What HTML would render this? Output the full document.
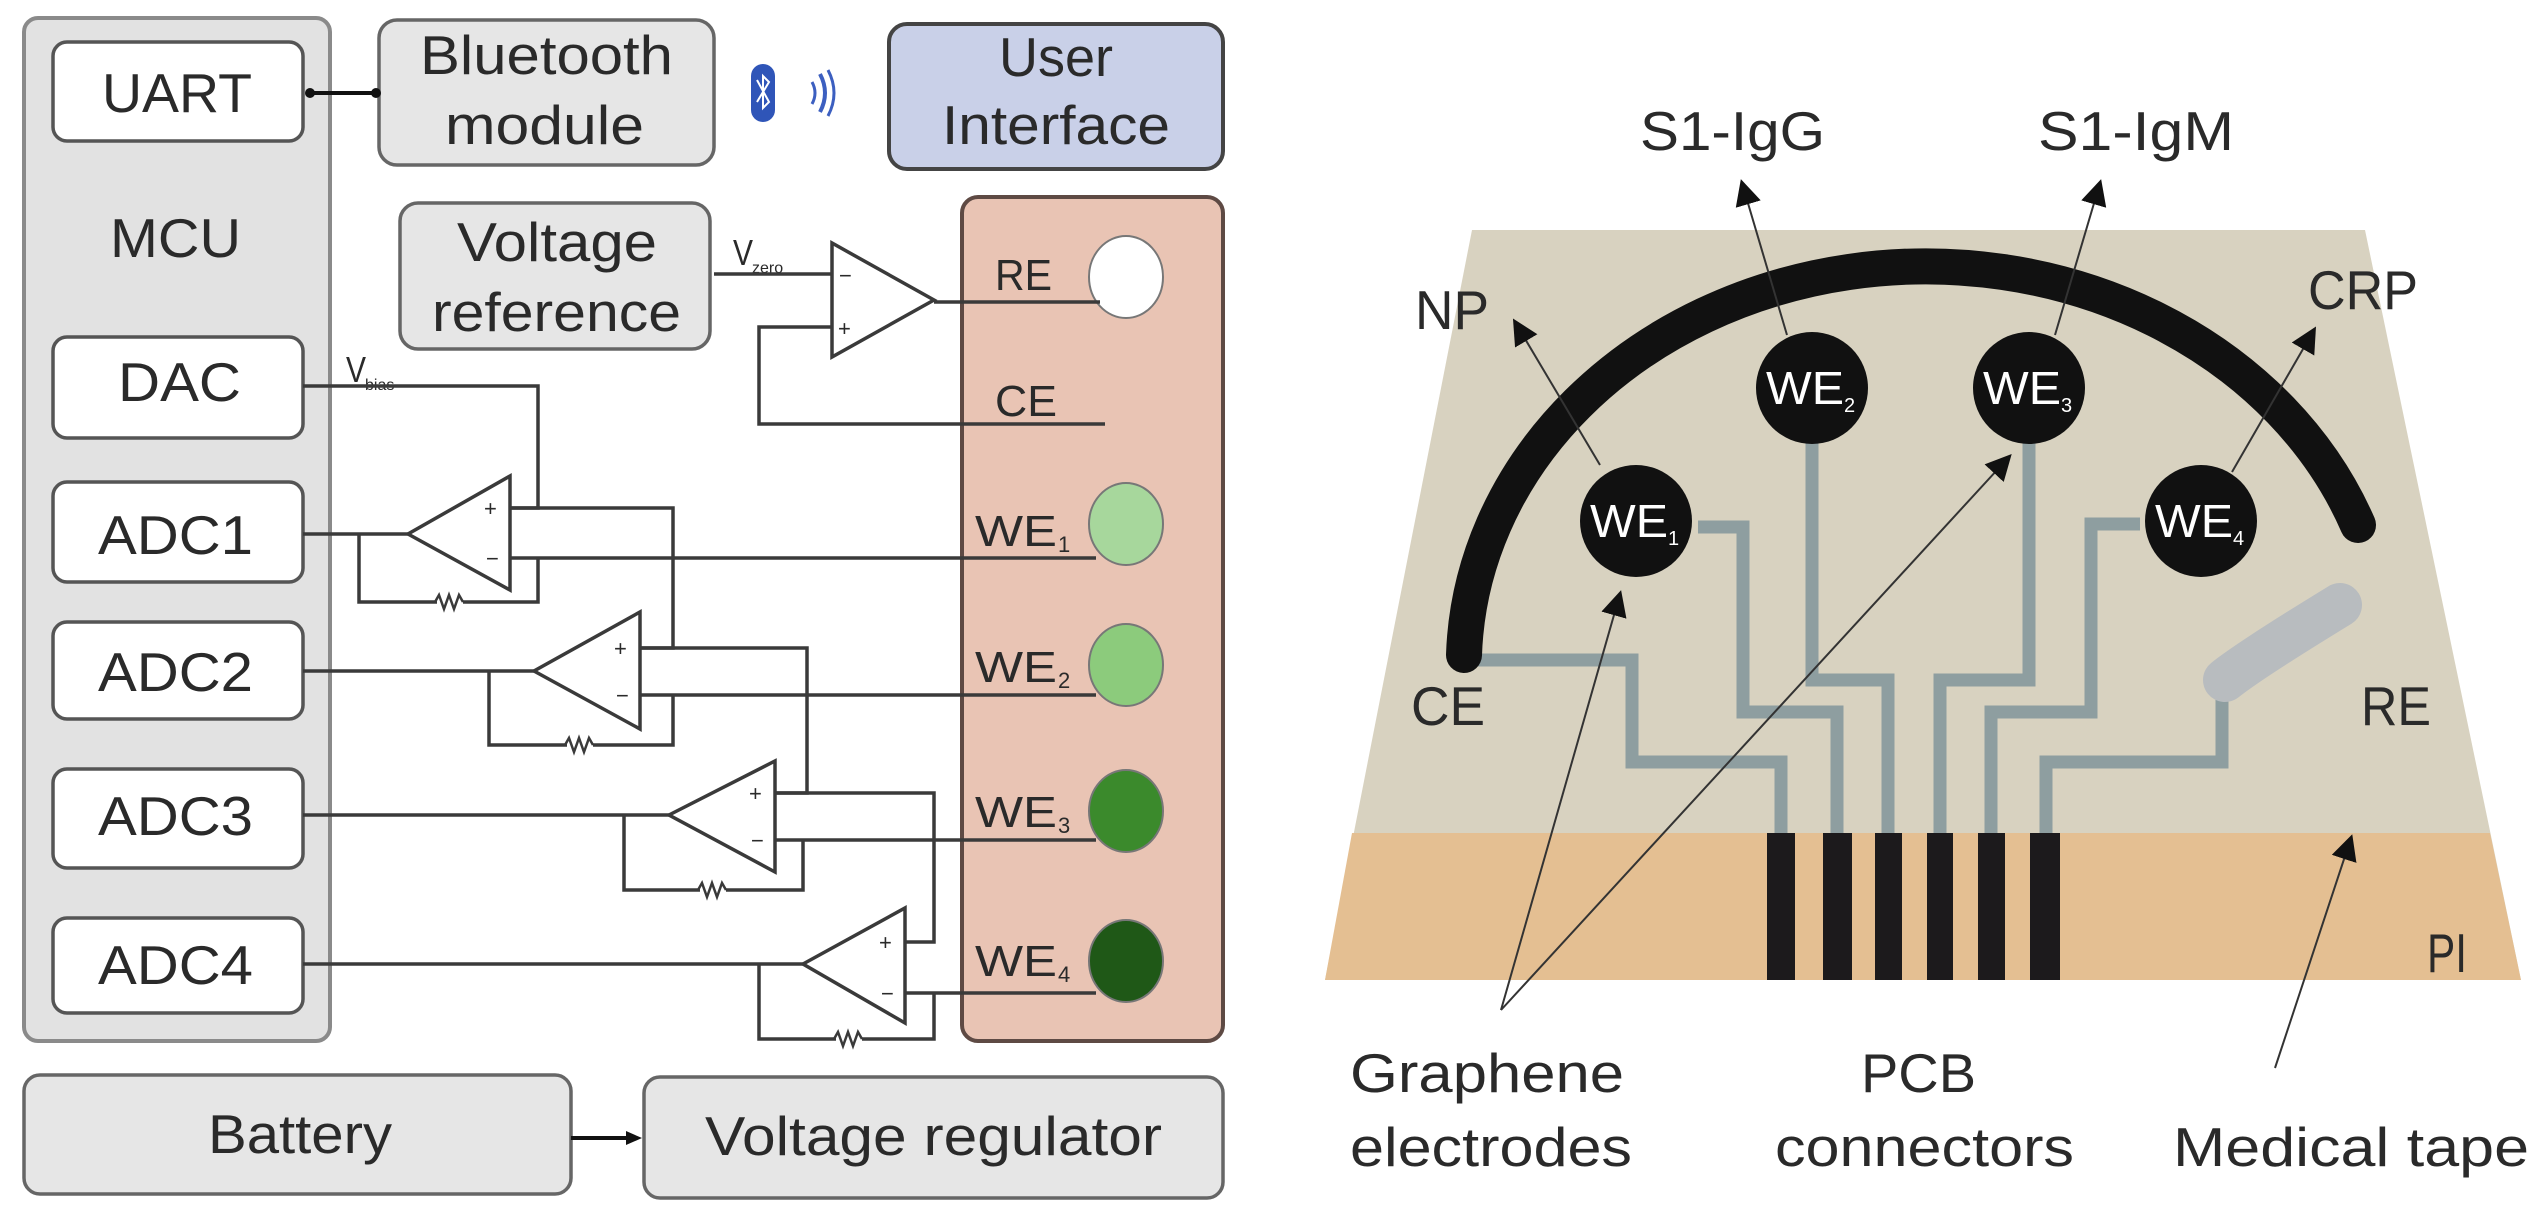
<!DOCTYPE html>
<html><head><meta charset="utf-8"><style>
html,body{margin:0;padding:0;background:#fff;}
svg{display:block;}
text{font-family:"Liberation Sans",sans-serif;fill:#2a2a2a;}
</style></head><body>
<svg width="2545" height="1214" viewBox="0 0 2545 1214" xmlns="http://www.w3.org/2000/svg">
<defs>
<marker id="ah" markerWidth="10" markerHeight="10" refX="8" refY="5" orient="auto" markerUnits="userSpaceOnUse" viewBox="0 0 10 10">
<path d="M0,0 L10,5 L0,10 z" fill="#111"/></marker>
<marker id="ahb" markerWidth="26" markerHeight="26" refX="22" refY="13" orient="auto" markerUnits="userSpaceOnUse" viewBox="0 0 26 26">
<path d="M0,0 L26,13 L0,26 z" fill="#111"/></marker>
</defs>

<!-- LEFT PANEL -->
<rect x="24" y="18" width="306" height="1023" rx="14" fill="#e2e2e2" stroke="#8a8a8a" stroke-width="4"/>
<g fill="#fff" stroke="#555" stroke-width="3.5">
<rect x="53" y="42" width="250" height="99" rx="14"/>
<rect x="53" y="337" width="250" height="101" rx="14"/>
<rect x="53" y="482" width="250" height="100" rx="14"/>
<rect x="53" y="622" width="250" height="97" rx="14"/>
<rect x="53" y="769" width="250" height="99" rx="14"/>
<rect x="53" y="918" width="250" height="95" rx="14"/>
</g>
<g fill="#e6e6e6" stroke="#666" stroke-width="3.5">
<rect x="379" y="20" width="335" height="145" rx="18"/>
<rect x="400" y="203" width="310" height="146" rx="18"/>
<rect x="24" y="1075" width="547" height="119" rx="16"/>
<rect x="644" y="1077" width="579" height="121" rx="16"/>
</g>
<rect x="889" y="24" width="334" height="145" rx="18" fill="#c9d0e8" stroke="#444" stroke-width="4"/>
<rect x="962" y="197" width="261" height="844" rx="16" fill="#e9c4b4" stroke="#5e4a44" stroke-width="4"/>

<g font-size="55">
<text x="102" y="112" textLength="150" lengthAdjust="spacingAndGlyphs">UART</text>
<text x="110" y="257" textLength="131" lengthAdjust="spacingAndGlyphs">MCU</text>
<text x="118" y="401" textLength="123" lengthAdjust="spacingAndGlyphs">DAC</text>
<text x="98" y="554" textLength="155" lengthAdjust="spacingAndGlyphs">ADC1</text>
<text x="98" y="691" textLength="155" lengthAdjust="spacingAndGlyphs">ADC2</text>
<text x="98" y="835" textLength="155" lengthAdjust="spacingAndGlyphs">ADC3</text>
<text x="98" y="984" textLength="155" lengthAdjust="spacingAndGlyphs">ADC4</text>
<text x="420" y="74" textLength="253" lengthAdjust="spacingAndGlyphs">Bluetooth</text>
<text x="445" y="144" textLength="199" lengthAdjust="spacingAndGlyphs">module</text>
<text x="999" y="76" textLength="114" lengthAdjust="spacingAndGlyphs">User</text>
<text x="942" y="144" textLength="228" lengthAdjust="spacingAndGlyphs">Interface</text>
<text x="457" y="261" textLength="200" lengthAdjust="spacingAndGlyphs">Voltage</text>
<text x="432" y="331" textLength="249" lengthAdjust="spacingAndGlyphs">reference</text>
<text x="208" y="1153" textLength="184" lengthAdjust="spacingAndGlyphs">Battery</text>
<text x="705" y="1155" textLength="457" lengthAdjust="spacingAndGlyphs">Voltage regulator</text>
</g>

<!-- bluetooth icons -->
<rect x="751" y="64" width="24" height="58" rx="12" fill="#2f55b8"/>
<path d="M757,80 L769,102 L763,108 L763,76 L769,82 L757,102" fill="none" stroke="#fff" stroke-width="2"/>
<path d="M812,82 Q818,93 812,104" fill="none" stroke="#3c5fc0" stroke-width="3"/>
<path d="M820,74 Q830,93 820,112" fill="none" stroke="#3c5fc0" stroke-width="4"/>
<path d="M828,70 Q840,93 828,116" fill="none" stroke="#3c5fc0" stroke-width="3"/>

<!-- UART-BT arrow -->
<line x1="310" y1="93" x2="372" y2="93" stroke="#111" stroke-width="4"/>
<circle cx="310" cy="93" r="5" fill="#111"/><circle cx="376" cy="93" r="5" fill="#111"/>
<!-- battery arrow -->
<line x1="571" y1="1138" x2="632" y2="1138" stroke="#111" stroke-width="4"/>
<path d="M626,1131 L642,1138 L626,1145 z" fill="#111"/>

<!-- electrodes -->
<g stroke="#777" stroke-width="2">
<ellipse cx="1126" cy="277" rx="37" ry="41" fill="#fff"/>
<ellipse cx="1126" cy="524" rx="37" ry="41" fill="#a7d79c"/>
<ellipse cx="1126" cy="665" rx="37" ry="41" fill="#8ccb7c"/>
<ellipse cx="1126" cy="811" rx="37" ry="41" fill="#3b8a2c"/>
<ellipse cx="1126" cy="961" rx="37" ry="41" fill="#1f5817"/>
</g>
<g font-size="44">
<text x="995" y="290" textLength="57" lengthAdjust="spacingAndGlyphs">RE</text>
<text x="995" y="416" textLength="62" lengthAdjust="spacingAndGlyphs">CE</text>
<text x="975" y="546" textLength="82" lengthAdjust="spacingAndGlyphs">WE</text><text x="1058" y="552" font-size="22">1</text>
<text x="975" y="682" textLength="82" lengthAdjust="spacingAndGlyphs">WE</text><text x="1058" y="688" font-size="22">2</text>
<text x="975" y="827" textLength="82" lengthAdjust="spacingAndGlyphs">WE</text><text x="1058" y="833" font-size="22">3</text>
<text x="975" y="976" textLength="82" lengthAdjust="spacingAndGlyphs">WE</text><text x="1058" y="982" font-size="22">4</text>
</g>
<text x="733" y="265" font-size="36" textLength="20" lengthAdjust="spacingAndGlyphs">V</text>
<text x="752" y="273" font-size="16">zero</text>
<text x="346" y="382" font-size="36" textLength="20" lengthAdjust="spacingAndGlyphs">V</text>
<text x="365" y="390" font-size="16">bias</text>

<!-- circuit wires -->
<g fill="none" stroke="#3a3a3a" stroke-width="3.5">
<!-- top opamp -->
<path d="M832,243 L832,357 L934,300 z" fill="#fff"/>
<path d="M714,274 H832"/>
<path d="M832,327 H759 V424 H1105"/>
<path d="M934,302 H1100"/>
<!-- Vbias -->
<path d="M303,386 H538 V508 H510"/>
<!-- opamp1 -->
<path d="M510,476 L510,590 L408,534 z" fill="#fff"/>
<path d="M303,534 H408"/>
<path d="M510,508 H673 V648 H640"/>
<path d="M510,558 H1096"/>
<path d="M359,534 V602 H538 V558"/>
<!-- opamp2 -->
<path d="M640,612 L640,729 L534,671 z" fill="#fff"/>
<path d="M303,671 H534"/>
<path d="M640,648 H807 V793 H775"/>
<path d="M640,695 H1096"/>
<path d="M489,671 V745 H673 V695"/>
<!-- opamp3 -->
<path d="M775,761 L775,872 L669,815 z" fill="#fff"/>
<path d="M303,815 H669"/>
<path d="M775,793 H934 V942 H905"/>
<path d="M775,840 H1096"/>
<path d="M624,815 V890 H803 V840"/>
<!-- opamp4 -->
<path d="M905,908 L905,1023 L803,964 z" fill="#fff"/>
<path d="M303,964 H803"/>
<path d="M905,993 H1096"/>
<path d="M759,964 V1039 H934 V993"/>
</g>
<g fill="#fff" stroke="#fff" stroke-width="6">
<line x1="437" y1="602" x2="463" y2="602"/>
<line x1="567" y1="745" x2="593" y2="745"/>
<line x1="700" y1="890" x2="726" y2="890"/>
<line x1="836" y1="1039" x2="862" y2="1039"/>
</g>
<g fill="none" stroke="#3a3a3a" stroke-width="2.5">
<path d="M435,602 l4,-7 l5,14 l5,-14 l5,14 l5,-14 l4,7"/>
<path d="M565,745 l4,-7 l5,14 l5,-14 l5,14 l5,-14 l4,7"/>
<path d="M698,890 l4,-7 l5,14 l5,-14 l5,14 l5,-14 l4,7"/>
<path d="M834,1039 l4,-7 l5,14 l5,-14 l5,14 l5,-14 l4,7"/>
</g>
<g font-size="22" fill="#333">
<text x="839" y="283">−</text><text x="838" y="336">+</text>
<text x="484" y="516">+</text><text x="486" y="566">−</text>
<text x="614" y="656">+</text><text x="616" y="703">−</text>
<text x="749" y="801">+</text><text x="751" y="848">−</text>
<text x="879" y="950">+</text><text x="881" y="1001">−</text>
</g>

<!-- RIGHT PANEL -->
<path d="M1472,230 L2365,230 L2521,980 L1325,980 z" fill="#d8d2c0"/>
<path d="M1352,833 L2490,833 L2521,980 L1325,980 z" fill="#e4bf92"/>

<!-- traces -->
<g fill="none" stroke="#8e9ea0" stroke-width="13">
<path d="M1477,660 H1632 V762 H1781 V840"/>
<path d="M1698,527 H1743 V712 H1837 V840"/>
<path d="M1812,441 V680 H1888 V840"/>
<path d="M2029,441 V680 H1940 V840"/>
<path d="M2140,524 H2091 V712 H1991 V840"/>
<path d="M2222,690 V762 H2046 V840"/>
</g>
<g fill="#1c1a1c">
<rect x="1767" y="833" width="28" height="147"/>
<rect x="1823" y="833" width="29" height="147"/>
<rect x="1875" y="833" width="27" height="147"/>
<rect x="1927" y="833" width="26" height="147"/>
<rect x="1978" y="833" width="27" height="147"/>
<rect x="2030" y="833" width="30" height="147"/>
</g>
<!-- RE blob -->
<path d="M2225,680 Q2250,660 2340,605" fill="none" stroke="#b8bcbf" stroke-width="44" stroke-linecap="round"/>
<!-- CE arc -->
<path d="M1464,655 A462,400 0 0 1 2358,525" fill="none" stroke="#111" stroke-width="36" stroke-linecap="round"/>

<!-- WE circles -->
<g fill="#111">
<circle cx="1636" cy="521" r="56"/>
<circle cx="1812" cy="388" r="56"/>
<circle cx="2029" cy="388" r="56"/>
<circle cx="2201" cy="521" r="56"/>
</g>
<g font-size="46" style="fill:#fff">
<text x="1590" y="537" style="fill:#fff" textLength="78" lengthAdjust="spacingAndGlyphs">WE</text><text x="1668" y="545" font-size="20" style="fill:#fff">1</text>
<text x="1766" y="404" style="fill:#fff" textLength="78" lengthAdjust="spacingAndGlyphs">WE</text><text x="1844" y="412" font-size="20" style="fill:#fff">2</text>
<text x="1983" y="404" style="fill:#fff" textLength="78" lengthAdjust="spacingAndGlyphs">WE</text><text x="2061" y="412" font-size="20" style="fill:#fff">3</text>
<text x="2155" y="537" style="fill:#fff" textLength="78" lengthAdjust="spacingAndGlyphs">WE</text><text x="2233" y="545" font-size="20" style="fill:#fff">4</text>
</g>

<!-- arrows -->
<g stroke="#333" stroke-width="2" fill="none">
<line x1="1600" y1="465" x2="1515" y2="322" marker-end="url(#ahb)"/>
<line x1="1787" y1="335" x2="1742" y2="183" marker-end="url(#ahb)"/>
<line x1="2055" y1="335" x2="2100" y2="183" marker-end="url(#ahb)"/>
<line x1="2232" y1="472" x2="2314" y2="330" marker-end="url(#ahb)"/>
<line x1="1501" y1="1010" x2="1620" y2="594" marker-end="url(#ahb)"/>
<line x1="1501" y1="1010" x2="2009" y2="457" marker-end="url(#ahb)"/>
<line x1="2275" y1="1068" x2="2351" y2="838" marker-end="url(#ahb)"/>
</g>

<g font-size="55">
<text x="1640" y="150" textLength="185" lengthAdjust="spacingAndGlyphs">S1-IgG</text>
<text x="2038" y="150" textLength="196" lengthAdjust="spacingAndGlyphs">S1-IgM</text>
<text x="1415" y="329" textLength="74" lengthAdjust="spacingAndGlyphs">NP</text>
<text x="2308" y="309" textLength="110" lengthAdjust="spacingAndGlyphs">CRP</text>
<text x="1411" y="725" textLength="74" lengthAdjust="spacingAndGlyphs">CE</text>
<text x="2361" y="725" textLength="70" lengthAdjust="spacingAndGlyphs">RE</text>
<text x="2427" y="972" textLength="40" lengthAdjust="spacingAndGlyphs">PI</text>
<text x="1350" y="1092" textLength="274" lengthAdjust="spacingAndGlyphs">Graphene</text>
<text x="1350" y="1166" textLength="282" lengthAdjust="spacingAndGlyphs">electrodes</text>
<text x="1861" y="1092" textLength="115" lengthAdjust="spacingAndGlyphs">PCB</text>
<text x="1775" y="1166" textLength="299" lengthAdjust="spacingAndGlyphs">connectors</text>
<text x="2173" y="1166" textLength="356" lengthAdjust="spacingAndGlyphs">Medical tape</text>
</g>
</svg>
</body></html>
